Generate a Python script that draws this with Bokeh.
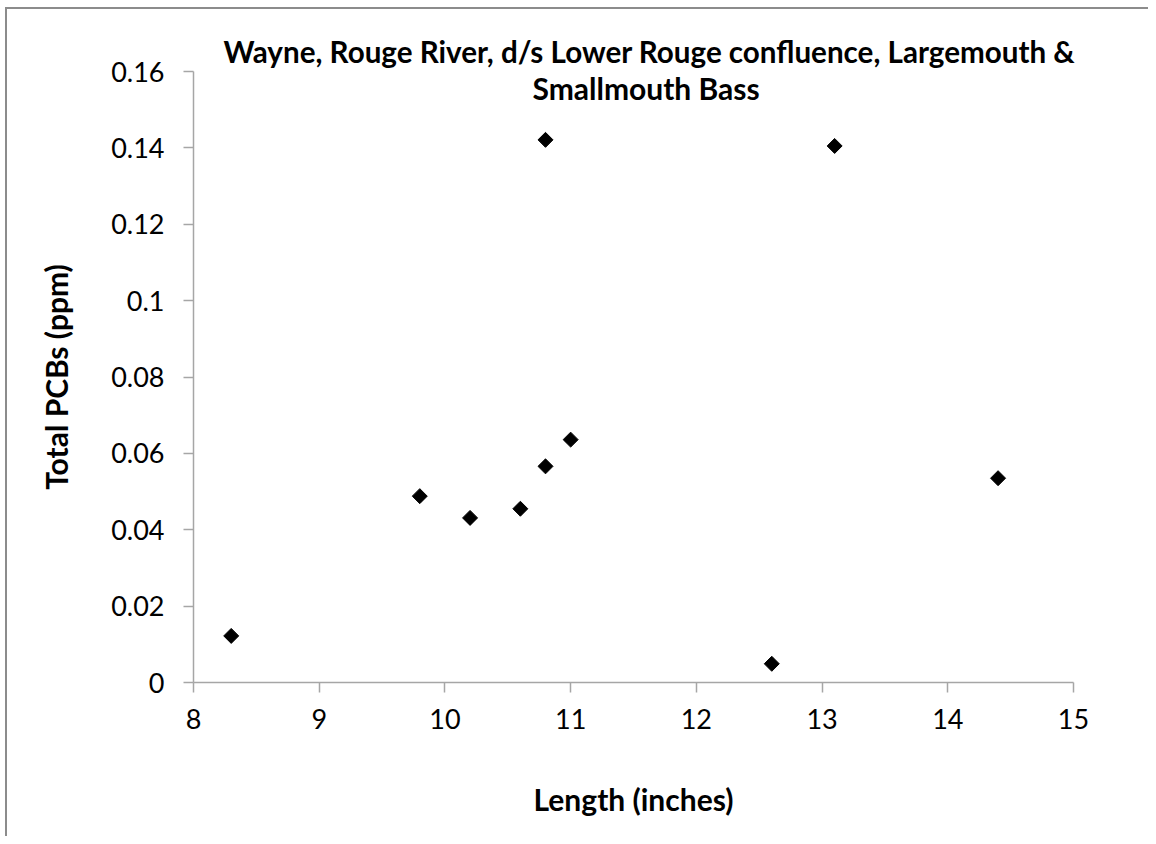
import math
from bokeh.plotting import figure
from bokeh.models import Range1d, FixedTicker, Label, ColumnDataSource, NumeralTickFormatter
from bokeh.embed import file_html
from bokeh.resources import INLINE

# ---- data ----
length_in = [8.3, 9.8, 10.2, 10.6, 10.8, 10.8, 11.0, 12.6, 13.1, 14.4]
pcb_ppm = [0.0122, 0.0488, 0.0431, 0.0455, 0.0566, 0.1421, 0.0636, 0.0049, 0.1405, 0.0535]
x_ticks = [8, 9, 10, 11, 12, 13, 14, 15]
y_ticks = [0, 0.02, 0.04, 0.06, 0.08, 0.1, 0.12, 0.14, 0.16]
title_lines = ["Wayne, Rouge River, d/s Lower Rouge confluence, Largemouth &", "Smallmouth Bass"]
x_label = "Length (inches)"
y_label = "Total PCBs (ppm)"

FONT = "Lato"
AXIS_COLOR = "#a6a6a6"

p = figure(
    width=1143, height=829,
    x_range=Range1d(8, 15), y_range=Range1d(0, 0.16),
    output_backend="svg", toolbar_location=None,
    min_border_left=186, min_border_right=77,
    min_border_top=62, min_border_bottom=156,
)
p.styles = {"border-left": "2px solid #8c8c8c", "border-top": "2px solid #8c8c8c",
            "margin-left": "5px", "margin-top": "7px"}
p.outline_line_color = None
p.xgrid.visible = False
p.ygrid.visible = False
p.background_fill_color = "white"
p.border_fill_color = "white"

src = ColumnDataSource(dict(x=length_in, y=pcb_ppm))
p.scatter("x", "y", source=src, marker="square", size=10.6, angle=math.pi / 4,
          fill_color="black", line_color="black")

for ax in (p.xaxis[0], p.yaxis[0]):
    ax.axis_line_color = AXIS_COLOR
    ax.axis_line_width = 1.5
    ax.major_tick_line_color = AXIS_COLOR
    ax.major_tick_line_width = 1.5
    ax.major_tick_in = 0
    ax.major_tick_out = 10
    ax.minor_tick_line_color = None
    ax.major_label_text_font = FONT
    ax.major_label_text_font_size = "27px"
    ax.major_label_text_color = "black"
    ax.axis_label_text_font = FONT
    ax.axis_label_text_font_size = "30px"
    ax.axis_label_text_font_style = "bold"
    ax.axis_label_text_color = "black"

p.xaxis.ticker = FixedTicker(ticks=x_ticks)
p.yaxis.ticker = FixedTicker(ticks=y_ticks)
p.yaxis.formatter = NumeralTickFormatter(format="0.[00]")
p.xaxis.axis_label = x_label
p.yaxis.axis_label = y_label
p.xaxis.major_label_standoff = 16
p.yaxis.major_label_standoff = 19
p.xaxis.axis_label_standoff = 49
p.yaxis.axis_label_standoff = 34

# title: first line as the plot title, second line overlapping the plot area
p.title.text = title_lines[0]
p.title.align = "left"
p.title.offset = 30
p.title.standoff = 5
p.title.text_font = FONT
p.title.text_font_size = "29.6px"
p.title.text_font_style = "bold"
p.title.text_color = "black"

p.add_layout(Label(x=11.6, y=0.1558, text=title_lines[1], text_align="center",
                   text_baseline="middle", text_font=FONT, text_font_size="30px",
                   text_font_style="bold", text_color="black"))

open("out.html", "w").write(file_html(p, INLINE))
